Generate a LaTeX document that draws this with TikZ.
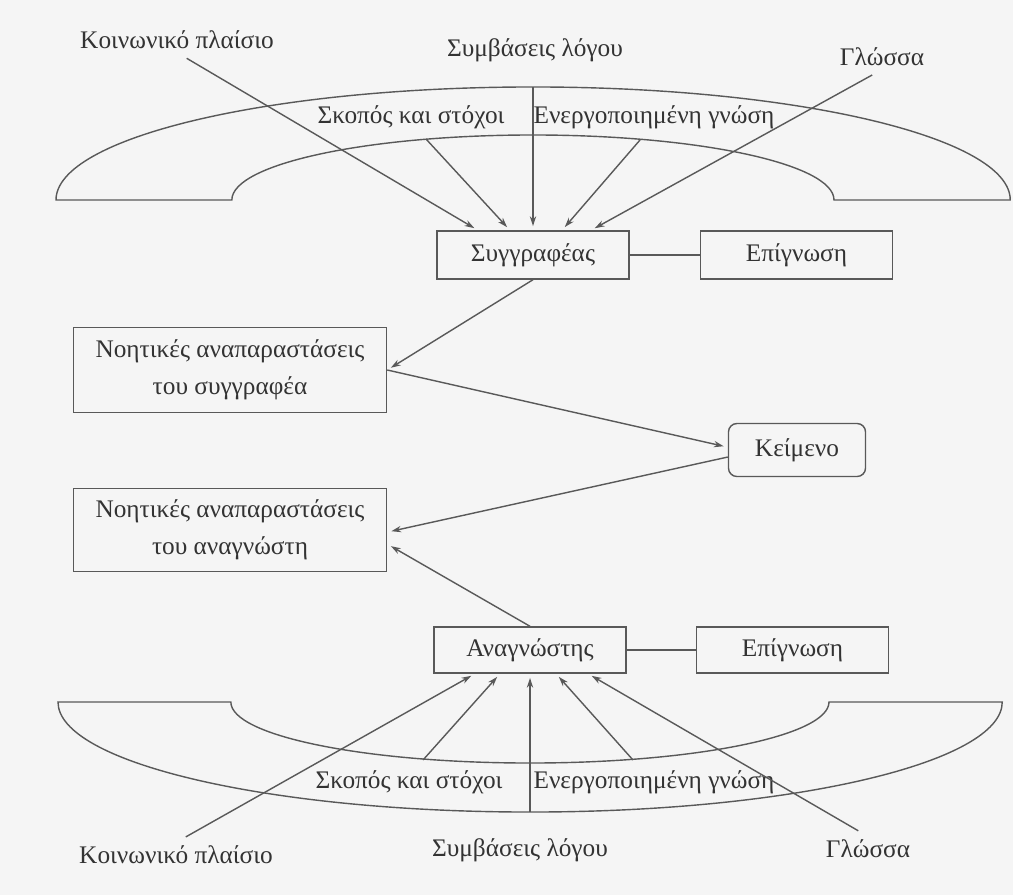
\documentclass[tikz,border=0pt]{standalone}
\usepackage{fontspec}
\setmainfont{Liberation Serif}
\usetikzlibrary{arrows.meta,positioning}

\tikzset{
  box/.style={rectangle,draw,minimum width=4.8cm,minimum height=1.2cm},
  widebox/.style={rectangle,draw,minimum width=7.825cm,minimum height=2.125cm,align=center},
  lbl/.style={inner sep=2pt},
  arr/.style={-{Stealth[length=7pt,width=4.5pt]},shorten >=3pt},
}

\begin{document}
\begin{tikzpicture}[x=0.025cm,y=-0.025cm,line width=1pt,color=black!65,
    every node/.style={text=black!80}]
\fontsize{18}{26}\selectfont
  \fill[black!4] (0,0) rectangle (1013,895);
  \useasboundingbox (0,0) rectangle (1013,895);

  % writer side
  \draw (56,200) arc[start angle=180,end angle=0,x radius=11.925cm,y radius=2.825cm]
    -- (834,200) arc[start angle=0,end angle=180,x radius=7.525cm,y radius=1.625cm] -- cycle;
  \coordinate (topC) at (533,87);
  \coordinate (goalA) at (426,139);
  \coordinate (knowA) at (640,140);

  \node[lbl] (socT) at (177,40) {Κοινωνικό πλαίσιο};
  \node[lbl] (convT) at (535,50) {Συμβάσεις λόγου};
  \node[lbl] (langT) at (882,57) {Γλώσσα};
  \node[lbl] (goalT) at (411,117) {Σκοπός και στόχοι};
  \node[lbl] (knowT) at (654,117) {Ενεργοποιημένη γνώση};

  \node[box] (author) at (533,255) {Συγγραφέας};
  \node[box] (awareA) [right=1.75cm of author] {Επίγνωση};
  \node[widebox] (repA) at (230,370) {Νοητικές αναπαραστάσεις\\του συγγραφέα};
  \node[box,rounded corners=6pt,minimum width=3.425cm,minimum height=1.325cm] (text) at (797,450) {Κείμενο};

  % reader side
  \node[widebox,minimum height=2.075cm] (repR) at (230,530) {Νοητικές αναπαραστάσεις\\του αναγνώστη};
  \node[box,minimum height=1.15cm] (reader) at (530,650) {Αναγνώστης};
  \node[box,minimum height=1.15cm] (awareB) [right=1.725cm of reader] {Επίγνωση};

  \draw (58,702) arc[start angle=180,end angle=360,x radius=11.8cm,y radius=2.75cm]
    -- (829,702) arc[start angle=0,end angle=-180,x radius=7.475cm,y radius=1.525cm] -- cycle;
  \coordinate (botC) at (530,812);
  \coordinate (goalB) at (423,760);
  \coordinate (knowB) at (633,760);

  \node[lbl] (goalB') at (409,782) {Σκοπός και στόχοι};
  \node[lbl] (knowB') at (654,782) {Ενεργοποιημένη γνώση};
  \node[lbl] (socB) at (176,855) {Κοινωνικό πλαίσιο};
  \node[lbl] (convB) at (520,850) {Συμβάσεις λόγου};
  \node[lbl] (langB) at (868,849) {Γλώσσα};

  \draw[arr,shorten <=8pt] (socT.south) -- ([xshift=-1.375cm]author.north);
  \draw[arr] (goalA) -- ([xshift=-0.575cm]author.north);
  \draw[arr] (topC) -- (author.north);
  \draw[arr] (knowA) -- ([xshift=0.725cm]author.north);
  \draw[arr,shorten <=8pt] (langT.south) -- ([xshift=1.45cm]author.north);

  \draw (author) -- (awareA);
  \draw[arr] (author.south) -- (repA.east);
  \draw[arr] (repA.east) -- ([yshift=2pt]text.west);
  \draw[arr] ([yshift=-5pt]text.west) -- ([yshift=-1.5pt]repR.east);
  \draw[arr] (reader.north) -- ([yshift=-10pt]repR.east);

  \draw (reader) -- (awareB);
  \draw[arr,shorten <=8pt] (socB.north) -- ([xshift=-1.375cm]reader.south);
  \draw[arr] (goalB) -- ([xshift=-0.75cm]reader.south);
  \draw[arr] (botC) -- (reader.south);
  \draw[arr] (knowB) -- ([xshift=0.65cm]reader.south);
  \draw[arr,shorten <=8pt] (langB.north) -- ([xshift=1.45cm]reader.south);

\end{tikzpicture}
\end{document}
